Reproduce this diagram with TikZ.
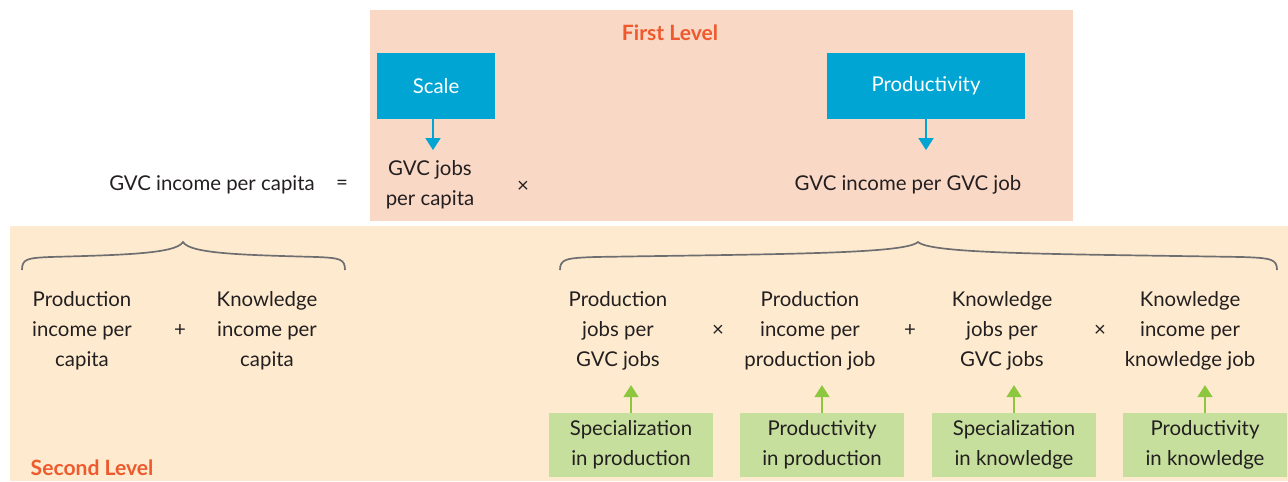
\documentclass[tikz,border=0pt]{standalone}
\usepackage{fontspec}
\setmainfont{Lato}
\usetikzlibrary{arrows.meta}

\definecolor{peach}{RGB}{250,216,198}
\definecolor{cream}{RGB}{254,235,207}
\definecolor{levelblue}{RGB}{0,165,211}
\definecolor{levelgreen}{RGB}{198,223,156}
\definecolor{arrowgreen}{RGB}{141,198,63}
\definecolor{levelred}{RGB}{238,90,46}
\definecolor{ink}{RGB}{35,31,32}
\definecolor{bracegray}{RGB}{110,110,113}

\begin{document}
\begin{tikzpicture}[x=0.025cm, y=-0.025cm,
    every node/.style={font=\fontsize{14.5}{21.3}\selectfont, text=ink},
    term/.style={align=center},
    levelname/.style={font=\fontsize{15}{18}\selectfont\bfseries, text=levelred},
    bluebox/.style={fill=levelblue, text=white, minimum height=1.625cm},
    greenbox/.style={fill=levelgreen, align=center, minimum width=4.075cm, minimum height=1.6cm},
    bluearrow/.style={draw=levelblue, line width=2.1pt, -{Triangle[width=0.36cm, length=0.3cm]}},
    greenarrow/.style={draw=arrowgreen, line width=2.1pt, -{Triangle[width=0.36cm, length=0.3cm]}},
    bracket/.style={draw=bracegray, line width=1.2pt}]
    \useasboundingbox (0,0) rectangle (1288,481);

    % Backgrounds of the two levels
    \fill[peach] (370,10) rectangle (1073,221);
    \fill[cream] (10,226) rectangle (1288,481);

    \node[levelname] (first) at (670,33) {First Level};
    \node[levelname] (second) at (92,468) {Second Level};

    % First level
    \node[bluebox, minimum width=2.95cm] (scale) at (436,86) {Scale};
    \node[bluebox, minimum width=4.95cm] (prod) at (926,86) {Productivity};

    \node (gvc) at (212,185) {GVC income per capita};
    \node (eq) at (342,185) {=};
    \node[term] (jobs) at (430,185) {GVC jobs\\per capita};
    \node (times0) at (523,187) {×};
    \node (inc) at (908,185) {GVC income per GVC job};

    \draw[bluearrow, shorten >=4pt] (scale.south -| 433,0) -- (433,0 |- jobs.north);
    \draw[bluearrow, shorten >=4pt] (prod.south) -- (prod.south |- jobs.north);

    % Braces
    \draw[bracket] (22,270) .. controls (22,259) and (27,258) .. (50,257)
        .. controls (120,255) and (176,254) .. (183,242)
        .. controls (190,254) and (246,255) .. (317,257)
        .. controls (340,258) and (345,259) .. (345,270);
    \draw[bracket] (560,270) .. controls (560,259) and (566,258) .. (595,257)
        .. controls (780,254) and (905,254) .. (918,242)
        .. controls (931,254) and (1056,254) .. (1242,257)
        .. controls (1271,258) and (1277,259) .. (1277,270);

    % Second level, left
    \node[term] (pinc) at (82,331) {Production\\income per\\capita};
    \node (plus1) at (180,331) {+};
    \node[term] (kinc) at (267,331) {Knowledge\\income per\\capita};

    % Second level, right
    \node[term] (pjobs) at (618,331) {Production\\jobs per\\GVC jobs};
    \node (times1) at (718,331) {×};
    \node[term] (pjinc) at (810,331) {Production\\income per\\production job};
    \node (plus2) at (910,331) {+};
    \node[term] (kjobs) at (1002,331) {Knowledge\\jobs per\\GVC jobs};
    \node (times2) at (1100,331) {×};
    \node[term] (kjinc) at (1190,331) {Knowledge\\income per\\knowledge job};

    \node[greenbox] (spec1) at (631,445) {Specialization\\in production};
    \node[greenbox] (prod1) at (822,445) {Productivity\\in production};
    \node[greenbox] (spec2) at (1014,445) {Specialization\\in knowledge};
    \node[greenbox] (prod2) at (1205,445) {Productivity\\in knowledge};

    \draw[greenarrow] (spec1.north) -- (spec1.north |- 0,385);
    \draw[greenarrow] (prod1.north) -- (prod1.north |- 0,385);
    \draw[greenarrow] (spec2.north) -- (spec2.north |- 0,385);
    \draw[greenarrow] (prod2.north) -- (prod2.north |- 0,385);
\end{tikzpicture}
\end{document}
